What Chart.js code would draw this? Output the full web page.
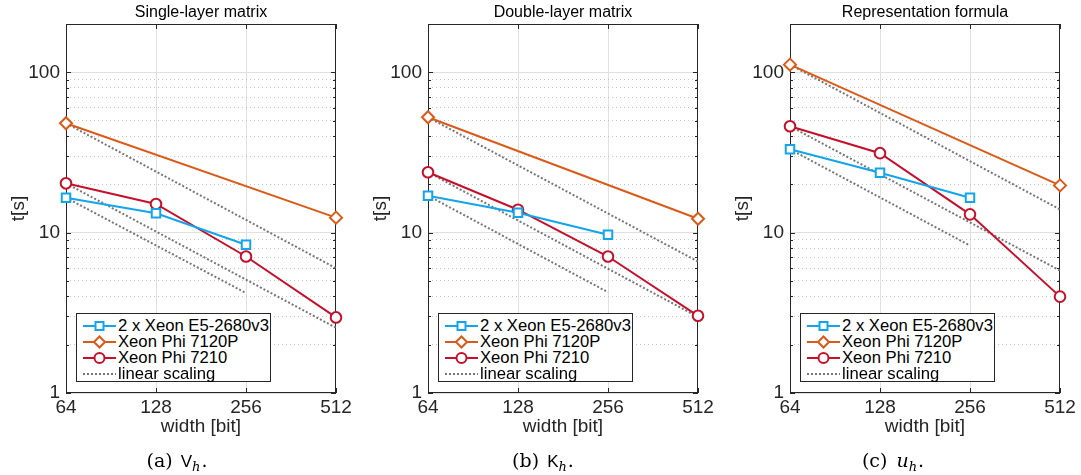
<!DOCTYPE html>
<html>
<head>
<meta charset="utf-8">
<script src="https://cdn.jsdelivr.net/npm/chart.js@4.4.1/dist/chart.umd.min.js"></script>
<style>
  html, body { margin: 0; padding: 0; background: #fff; }
  body { width: 1081px; height: 475px; overflow: hidden; position: relative; font-family: "Liberation Sans", Arial, sans-serif; }
  .panel { position: absolute; top: 0; }
  .legend { position: absolute; top: 313px; width: 193px; height: 67px; border: 1px solid #262626; background: #fff; box-sizing: content-box; }
  .row { position: absolute; left: 0; height: 16px; display: flex; align-items: center; font-size: 16px; line-height: 16px; color: #000; white-space: nowrap; }
  .row svg { margin-left: 6px; margin-right: 2px; flex: none; }
  .caption { position: absolute; top: 448px; line-height: 24px; transform: translateX(-50%); font-family: "DejaVu Serif", "Liberation Serif", serif; font-size: 19px; white-space: nowrap; color: #000; }
  .caption .sf { font-family: "Liberation Sans", Arial, sans-serif; font-size: 17px; margin-left: 2px; }
  .caption i { font-size: 19px; margin-left: 3px; }
  .caption sub { font-style: italic; font-size: 13px; vertical-align: -4px; margin-right: 1px; }
</style>
</head>
<body>
<script>
// ---------- data ----------
const widths = [64, 128, 256, 512];
const xTickLabels = [64, 128, 256, 512];
const yTickLabels = [1, 10, 100];
const seriesNames = ['2 x Xeon E5-2680v3', 'Xeon Phi 7120P', 'Xeon Phi 7210'];
const linearName = 'linear scaling';
const panelTitles = ['Single-layer matrix', 'Double-layer matrix', 'Representation formula'];

// (a) single-layer matrix V_h
const aE5   = [16.5, 13.2, 8.4, null];
const a7120 = [48.1, null, null, 12.4];
const a7210 = [20.3, 15.1, 7.1, 2.96];
const aLinE5   = [16.5, null, 4.2, null];
const aLin7120 = [48.1, null, null, 6.0];
const aLin7210 = [20.3, null, null, 2.55];

// (b) double-layer matrix K_h
const bE5   = [17.0, 13.3, 9.7, null];
const b7120 = [52.4, null, null, 12.2];
const b7210 = [23.8, 13.9, 7.1, 3.03];
const bLinE5   = [17.0, null, 4.25, null];
const bLin7120 = [52.4, null, null, 6.6];
const bLin7210 = [23.8, null, null, 2.98];

// (c) representation formula u_h
const cE5   = [33.1, 23.6, 16.5, null];
const c7120 = [111.6, null, null, 19.7];
const c7210 = [46.1, 31.3, 13.0, 3.99];
const cLinE5   = [33.1, null, 8.3, null];
const cLin7120 = [111.6, null, null, 13.95];
const cLin7210 = [46.1, null, null, 5.8];

// ---------- styling ----------
const C_BLUE = '#12A5EC', C_ORANGE = '#DB5A19', C_RED = '#C5102C', C_LIN = '#777777';
const FONT = '"Liberation Sans", Arial, sans-serif';
const CANVAS_W = 357, CANVAS_H = 440;
const PLOT_LEFT = 66, PLOT_RIGHT = 336, PLOT_BOTTOM = 393;
const panelLefts = [0, 362, 724];
const captionCenters = [177, 543, 893];
const captions = [
  '(a)<span class="sf">V</span><sub>h</sub>.',
  '(b)<span class="sf">K</span><sub>h</sub>.',
  '(c)<i>u</i><sub>h</sub>.'
];

function pts(vals) {
  return widths.map((w, i) => ({ x: w, y: vals[i] })).filter(p => p.y !== null);
}
function series(name, vals, color, style, radius) {
  return { label: name, data: pts(vals), borderColor: color, borderWidth: 2,
    pointStyle: style, pointRadius: radius, pointBorderWidth: 2, pointBackgroundColor: '#fff',
    pointBorderColor: color, fill: false, tension: 0, order: 0, spanGaps: true, clip: false };
}
function linear(vals) {
  return { label: linearName, data: pts(vals), borderColor: C_LIN, borderWidth: 2, borderDash: [2, 2],
    pointRadius: 0, fill: false, tension: 0, order: 1, clip: false };
}

const minorVals = [];
for (let d = 1; d <= 100; d *= 10) for (let k = 1; k <= 9; k++) if (d * k <= 200) minorVals.push(d * k);
minorVals.push(200);
const isMajorY = v => yTickLabels.includes(v);

const framePlugin = {
  id: 'frame',
  beforeDatasetsDraw(chart) {
    const { ctx, chartArea: a, scales: { x, y } } = chart;
    ctx.save();
    ctx.strokeStyle = '#262626';
    ctx.lineWidth = 1;
    ctx.beginPath();
    y.ticks.forEach(t => {
      const py = Math.round(y.getPixelForValue(t.value)) + 0.5;
      const len = isMajorY(t.value) ? 5 : 3;
      ctx.moveTo(a.left, py); ctx.lineTo(a.left + len, py);
      ctx.moveTo(a.right, py); ctx.lineTo(a.right - len, py);
    });
    x.ticks.forEach(t => {
      const px = Math.round(x.getPixelForValue(t.value)) + 0.5;
      ctx.moveTo(px, a.bottom); ctx.lineTo(px, a.bottom - 5);
      ctx.moveTo(px, a.top); ctx.lineTo(px, a.top + 5);
    });
    ctx.stroke();
    ctx.strokeRect(Math.round(a.left) + 0.5, Math.round(a.top) + 0.5,
      Math.round(a.right - a.left) - 1, Math.round(a.bottom - a.top) - 1);
    ctx.restore();
  }
};

const panelData = [
  [aE5, a7120, a7210, aLinE5, aLin7120, aLin7210],
  [bE5, b7120, b7210, bLinE5, bLin7120, bLin7210],
  [cE5, c7120, c7210, cLinE5, cLin7120, cLin7210]
];

panelData.forEach((pd, idx) => {
  const left = panelLefts[idx];
  const div = document.createElement('div');
  div.className = 'panel';
  div.style.left = left + 'px';
  const cv = document.createElement('canvas');
  cv.width = CANVAS_W; cv.height = CANVAS_H;
  cv.style.width = CANVAS_W + 'px'; cv.style.height = CANVAS_H + 'px';
  div.appendChild(cv);
  document.body.appendChild(div);

  new Chart(cv, {
    type: 'line',
    data: {
      datasets: [
        series(seriesNames[0], pd[0], C_BLUE, 'rect', 6),
        series(seriesNames[1], pd[1], C_ORANGE, 'rectRot', 6),
        series(seriesNames[2], pd[2], C_RED, 'circle', 5.3),
        linear(pd[3]), linear(pd[4]), linear(pd[5])
      ]
    },
    options: {
      responsive: false, animation: false, devicePixelRatio: 1,
      layout: { padding: { left: 0, right: CANVAS_W - PLOT_RIGHT, top: 0, bottom: 0 } },
      plugins: {
        legend: { display: false }, tooltip: { enabled: false },
        title: { display: true, fullSize: false, text: panelTitles[idx], color: '#000',
          font: { family: FONT, size: 16, weight: 'normal' }, padding: { top: 2.5, bottom: 2.3 } }
      },
      scales: {
        x: {
          type: 'logarithmic', position: 'bottom', min: 64, max: 512,
          afterBuildTicks: s => { s.ticks = xTickLabels.map(v => ({ value: v })); },
          afterFit: s => { s.height = CANVAS_H - PLOT_BOTTOM; },
          ticks: { autoSkip: false, maxRotation: 0, padding: 3, color: '#262626',
            font: { family: FONT, size: 19 }, callback: v => String(v) },
          grid: { drawTicks: false, color: c => (c.tick && (c.tick.value === 128 || c.tick.value === 256)) ? '#e0e0e0' : 'rgba(0,0,0,0)', lineWidth: 1 },
          border: { display: false },
          title: { display: true, text: 'width [bit]', color: '#262626',
            font: { family: FONT, size: 19 }, padding: { top: 0, bottom: 2 } }
        },
        y: {
          type: 'logarithmic', position: 'left', min: 1, max: 200,
          afterBuildTicks: s => { s.ticks = minorVals.map(v => ({ value: v })); },
          afterFit: s => { s.width = PLOT_LEFT; },
          ticks: { autoSkip: false, padding: 6, color: '#262626',
            font: { family: FONT, size: 19 }, callback: v => isMajorY(v) ? String(v) : '' },
          grid: { drawTicks: false, lineWidth: 1,
            color: c => (c.tick && isMajorY(c.tick.value)) ? '#e0e0e0' : '#c4c4c4' },
          border: { display: false, dash: c => (c.tick && isMajorY(c.tick.value)) ? [] : [1, 3] },
          title: { display: true, text: 't[s]', color: '#262626',
            font: { family: FONT, size: 19 }, padding: { top: 7, bottom: 0 } }
        }
      }
    },
    plugins: [framePlugin]
  });

  // legend (HTML)
  const lg = document.createElement('div');
  lg.className = 'legend';
  lg.style.left = (left + PLOT_LEFT + 10) + 'px';
  const markers = [
    `<rect x="12.5" y="3" width="8" height="8" fill="#fff" stroke="${C_BLUE}" stroke-width="2"/>`,
    `<path d="M16.5 1.5 L22 7 L16.5 12.5 L11 7 Z" fill="#fff" stroke="${C_ORANGE}" stroke-width="2"/>`,
    `<circle cx="16.5" cy="7" r="5" fill="#fff" stroke="${C_RED}" stroke-width="2"/>`
  ];
  const colors = [C_BLUE, C_ORANGE, C_RED];
  const names = seriesNames.concat([linearName]);
  const spans = [];
  names.forEach((n, i) => {
    const row = document.createElement('div');
    row.className = 'row';
    row.style.top = (3.5 + i * 16.2) + 'px';
    let svg;
    if (i < 3) {
      svg = `<svg width="33" height="14"><line x1="0" y1="7" x2="33" y2="7" stroke="${colors[i]}" stroke-width="2"/>${markers[i]}</svg>`;
    } else {
      svg = `<svg width="33" height="14"><line x1="0" y1="7" x2="33" y2="7" stroke="${C_LIN}" stroke-width="2" stroke-dasharray="2 2"/></svg>`;
    }
    row.innerHTML = svg + '<span>' + n + '</span>';
    lg.appendChild(row);
    spans.push(row.querySelector('span'));
  });
  document.body.appendChild(lg);
  // size legend text so the longest entry spans ~151px, as in the reference
  const w0 = spans[0].getBoundingClientRect().width;
  if (w0 > 0) {
    const fs = 16 * 151 / w0;
    spans.forEach(s => { s.style.fontSize = fs.toFixed(2) + 'px'; });
  }

  const cap = document.createElement('div');
  cap.className = 'caption';
  cap.style.left = captionCenters[idx] + 'px';
  cap.innerHTML = captions[idx].replace(')', ') ');
  document.body.appendChild(cap);
});
</script>
</body>
</html>
